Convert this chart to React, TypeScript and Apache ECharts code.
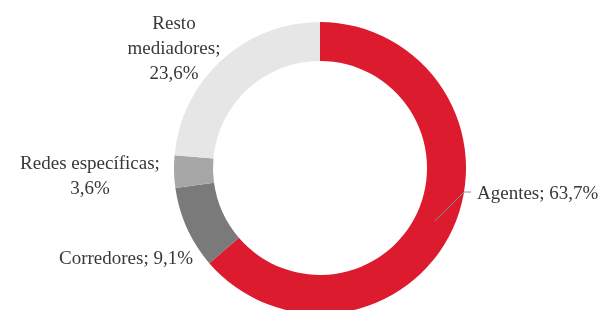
import React, { useEffect, useRef } from "react";
import * as echarts from "echarts";

const categories = ["Agentes", "Corredores", "Redes específicas", "Resto mediadores"];
const values = [63.7, 9.1, 3.6, 23.6];
const colors = ["#dc1c2e", "#7a7a7a", "#a6a6a6", "#e6e6e6"];
// label separators: how name and value are joined
const nameBreaks = [false, false, false, true];
const valueBreaks = [false, false, true, true];

const CX = 320;
const CY = 168;
const R_IN = 107;
const R_OUT = 146;

// label anchor positions (layout only)
const labelPos: { x: number; y: number; align: string }[] = [
  { x: 477, y: 192, align: "left" },
  { x: 193, y: 257, align: "right" },
  { x: 90, y: 175, align: "center" },
  { x: 174, y: 47, align: "center" },
];

const fmt = (v: number) => v.toFixed(1).replace(".", ",") + "%";

export default function App() {
  const ref = useRef<HTMLDivElement>(null);
  useEffect(() => {
    if (!ref.current) return;
    const chart = echarts.init(ref.current, undefined, { renderer: "svg" });
    const total = values.reduce((a, b) => a + b, 0);
    const base = {
      type: "pie",
      center: [CX, CY],
      radius: [R_IN, R_OUT],
      startAngle: 90,
      clockwise: true,
      avoidLabelOverlap: false,
      silent: true,
    };
    chart.setOption({
      animation: false,
      series: [
        {
          ...base,
          z: 2,
          label: { show: false },
          labelLine: { show: false },
          data: categories.map((c, i) => ({
            name: c,
            value: values[i],
            itemStyle: { color: colors[i] },
          })),
        },
        {
          ...base,
          z: 5,
          label: {
            show: true,
            position: "outside",
            fontFamily: "Liberation Serif",
            fontSize: 19,
            lineHeight: 25,
            color: "#383838",
            formatter: (p: any) => {
              const i = p.dataIndex;
              const name = nameBreaks[i] ? categories[i].replace(" ", "\n") : categories[i];
              return name + ";" + (valueBreaks[i] ? "\n" : " ") + fmt(values[i]);
            },
          },
          labelLine: { show: false },
          labelLayout: (params: any) => {
            const i = params.dataIndex;
            const pos = labelPos[i];
            const res: any = {
              x: pos.x,
              y: pos.y,
              align: pos.align,
              verticalAlign: "middle",
            };
            if (i === 0) {
              let before = 0;
              for (let k = 0; k < i; k++) before += values[k];
              const midFrac = (before + values[i] / 2) / total;
              const ang = midFrac * Math.PI * 2; // clockwise from top
              const rMid = (R_IN + R_OUT) / 2;
              const sx = CX + rMid * Math.sin(ang);
              const sy = CY - rMid * Math.cos(ang);
              const ex = CX + Math.sqrt(R_OUT * R_OUT - (pos.y - CY) * (pos.y - CY));
              res.labelLinePoints = [
                [sx, sy],
                [ex, pos.y],
                [pos.x - 6, pos.y],
              ];
            }
            return res;
          },
          data: categories.map((c, i) => ({
            name: c,
            value: values[i],
            itemStyle: { color: "rgba(0,0,0,0)" },
            labelLine:
              i === 0
                ? { show: true, lineStyle: { color: "#8c8c8c", width: 1 } }
                : { show: false },
          })),
        },
      ],
    });
    return () => chart.dispose();
  }, []);
  return (
    <div
      ref={ref}
      style={{ position: "fixed", left: 0, top: 0, width: 603, height: 310 }}
    />
  );
}
